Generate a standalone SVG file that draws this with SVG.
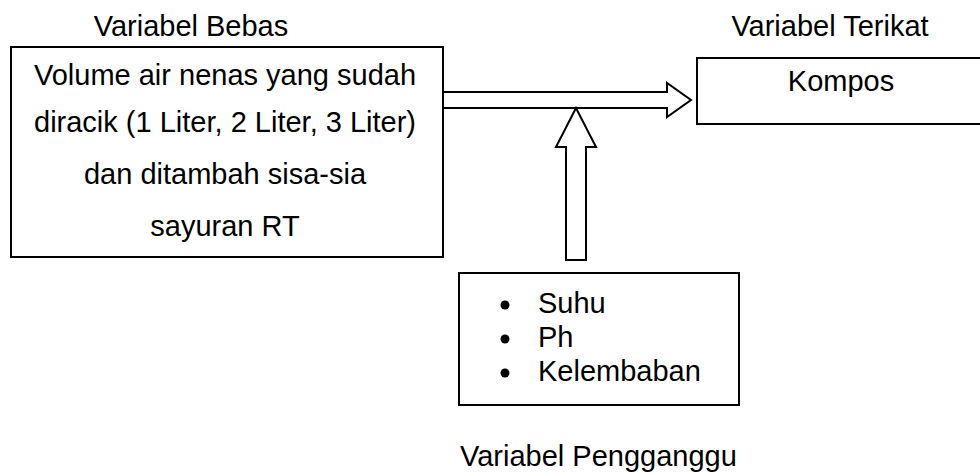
<svg xmlns="http://www.w3.org/2000/svg" width="980" height="475" viewBox="0 0 980 475">
  <style>
    .box { fill: #fff; stroke: #000; stroke-width: 2; }
    .arrow { fill: #fff; stroke: #000; stroke-width: 2; stroke-linejoin: miter; }
    text { font-family: "Liberation Sans", Arial, sans-serif; font-size: 29px; fill: #000; }
    .c { text-anchor: middle; }
  </style>
  <rect width="980" height="475" fill="#fff"/>

  <!-- Connectors: block arrows -->
  <g id="connectors">
    <path class="arrow" d="M443,92 L667,92 L667,83 L691,100 L667,117 L667,108 L443,108"/>
    <path class="arrow" d="M576,108 L596,147 L586,147 L586,260 L566,260 L566,147 L556,147 Z"/>
  </g>

  <!-- Independent variable -->
  <g id="variabel-bebas">
    <text class="c" x="191" y="36">Variabel Bebas</text>
    <rect class="box" x="11" y="47" width="432" height="210"/>
    <text class="c" x="225" y="85">Volume air nenas yang sudah</text>
    <text class="c" x="225" y="132">diracik (1 Liter, 2 Liter, 3 Liter)</text>
    <text class="c" x="225" y="184">dan ditambah sisa-sia</text>
    <text class="c" x="225" y="236">sayuran RT</text>
  </g>

  <!-- Dependent variable -->
  <g id="variabel-terikat">
    <text class="c" x="830" y="36">Variabel Terikat</text>
    <rect class="box" x="697" y="58" width="300" height="66"/>
    <text class="c" x="841" y="91">Kompos</text>
  </g>

  <!-- Confounding variables -->
  <g id="variabel-pengganggu">
    <rect class="box" x="459" y="273" width="280" height="132"/>
    <circle cx="505" cy="305" r="4.5"/>
    <text x="538" y="313">Suhu</text>
    <circle cx="505" cy="339" r="4.5"/>
    <text x="538" y="347">Ph</text>
    <circle cx="505" cy="373" r="4.5"/>
    <text x="538" y="381">Kelembaban</text>
    <text x="460" y="466">Variabel Pengganggu</text>
  </g>
</svg>
